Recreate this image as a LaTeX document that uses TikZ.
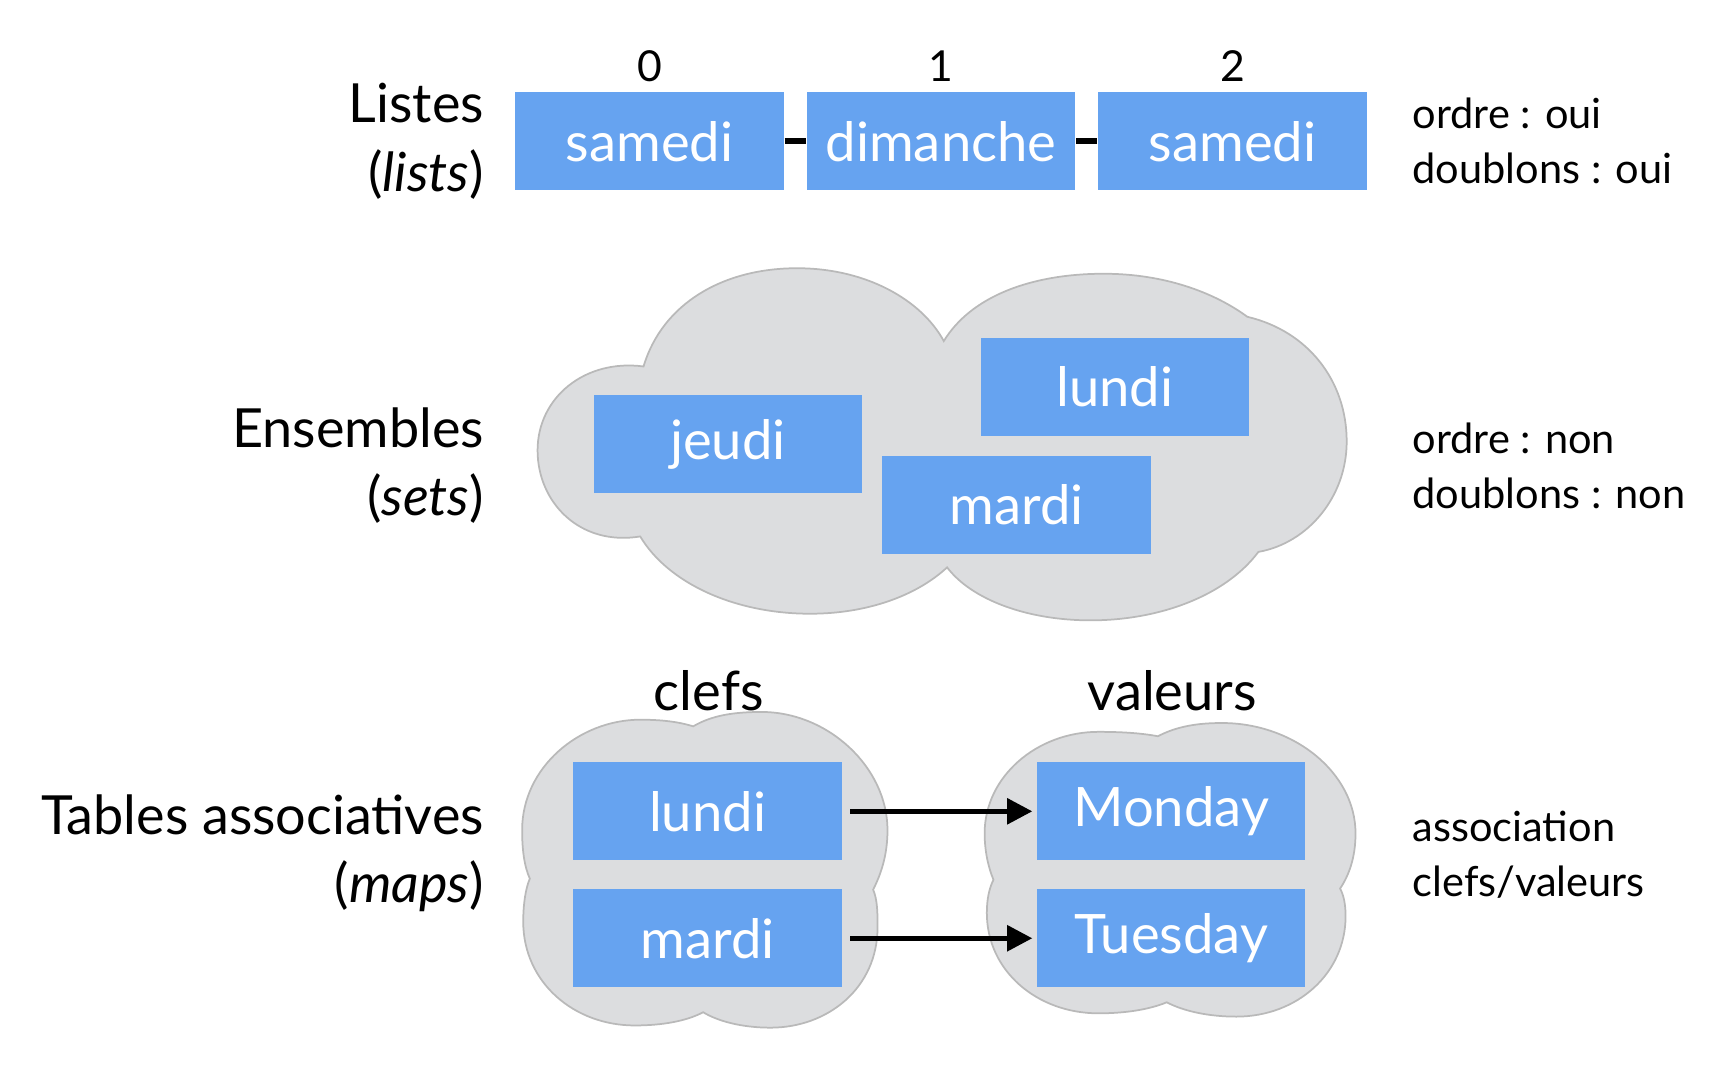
\documentclass[tikz,border=0pt]{standalone}
\usepackage{fontspec}
\setmainfont{Lato}
\usetikzlibrary{arrows.meta}
\definecolor{boxblue}{RGB}{102,163,240}
\definecolor{cloudgray}{RGB}{220,221,223}
\definecolor{cloudline}{RGB}{185,185,185}

\begin{document}
\begin{tikzpicture}[x=0.01cm, y=-0.01cm]
    % Define styles for boxes, clouds and labels
    \tikzstyle{item}=[rectangle, fill=boxblue, text=white, minimum width=2.43cm, minimum height=0.89cm, inner sep=0pt, font=\fontsize{14}{17}\selectfont]
    \tikzstyle{kind}=[anchor=east, align=right, inner sep=0pt, font=\fontsize{13.9}{17.6}\selectfont]
    \tikzstyle{remark}=[anchor=west, align=left, inner sep=0pt, font=\fontsize{10.7}{14.2}\selectfont]
    \tikzstyle{index}=[inner sep=0pt, font=\fontsize{11}{13}\selectfont]
    \tikzstyle{title}=[inner sep=0pt, font=\fontsize{14}{17}\selectfont]
    \tikzstyle{cloud}=[fill=cloudgray, draw=cloudline, line width=0.45pt]
    \tikzstyle{link}=[line width=1.3pt]

    \useasboundingbox (0,0) rectangle (1560,983);

    % Lists
    \node[kind] (K-L) at (439,128) {Listes\\(\textit{lists})};
    \foreach \i/\x/\t in {0/588.5/samedi, 1/852.5/dimanche, 2/1116.5/samedi} {
        \node[item] (L-\i) at (\x,128) {\t};
        \node[index] (N-\i) at (\x,60) {\i};
    }
    \draw[link, line width=1.6pt] (L-0) -- (L-1);
    \draw[link, line width=1.6pt] (L-1) -- (L-2);
    \node[remark] (R-L) at (1279,128) {ordre : oui\\doublons : oui};

    % Sets
    \node[kind] (K-S) at (439,422) {Ensembles\\(\textit{sets})};
    \path[cloud] (583,332) .. controls (600,275) and (655,243) .. (722,243)
        .. controls (785,243) and (835,272) .. (855,309)
        .. controls (880,268) and (935,248) .. (1000,248)
        .. controls (1055,248) and (1100,265) .. (1130,287)
        .. controls (1185,300) and (1220,345) .. (1220,400)
        .. controls (1220,450) and (1185,492) .. (1140,500)
        .. controls (1110,540) and (1050,562) .. (988,562)
        .. controls (930,562) and (880,543) .. (858,514)
        .. controls (830,540) and (785,556) .. (734,556)
        .. controls (665,556) and (605,528) .. (580,486)
        .. controls (525,495) and (487,455) .. (487,408)
        .. controls (487,360) and (530,325) .. (583,332) -- cycle;
    \node[item] (S-1) at (659.5,402.5) {jeudi};
    \node[item] (S-2) at (1010,350.5) {lundi};
    \node[item] (S-3) at (921,457.5) {mardi};
    \node[remark] (R-S) at (1279,422) {ordre : non\\doublons : non};

    % Maps
    \node[kind] (K-M) at (439,773) {Tables associatives\\(\textit{maps})};
    \path[cloud] (628,658) .. controls (645,648) and (665,645) .. (690,645)
        .. controls (750,645) and (804,695) .. (804,752)
        .. controls (804,775) and (798,792) .. (791,806)
        .. controls (795,815) and (795,828) .. (795,840)
        .. controls (795,895) and (750,931) .. (698,931)
        .. controls (672,931) and (650,925) .. (637,917)
        .. controls (622,925) and (600,929) .. (575,929)
        .. controls (520,929) and (474,890) .. (474,835)
        .. controls (474,820) and (476,805) .. (480,796)
        .. controls (475,785) and (473,770) .. (473,752)
        .. controls (473,695) and (525,652) .. (580,652)
        .. controls (600,652) and (615,654) .. (628,658) -- cycle;
    \path[cloud] (1049,667) .. controls (1066,658) and (1085,655) .. (1107,655)
        .. controls (1172,655) and (1228,700) .. (1228,755)
        .. controls (1228,777) and (1222,793) .. (1214,805)
        .. controls (1218,812) and (1219,822) .. (1219,830)
        .. controls (1219,882) and (1175,921) .. (1120,921)
        .. controls (1095,921) and (1072,916) .. (1057,908)
        .. controls (1040,915) and (1018,918) .. (995,918)
        .. controls (940,918) and (894,880) .. (894,827)
        .. controls (894,815) and (896,805) .. (900,797)
        .. controls (895,785) and (892,770) .. (892,755)
        .. controls (892,703) and (940,663) .. (995,663)
        .. controls (1015,663) and (1033,664) .. (1049,667) -- cycle;
    \node[title] (T-K) at (642,626) {clefs};
    \node[title] (T-V) at (1062,626) {valeurs};
    \foreach \i/\y/\k/\v in {1/735/lundi/Monday, 2/850/mardi/Tuesday} {
        \node[item] (K-\i) at (641,\y) {\k};
        \node[item] (V-\i) at (1061,\y) {\v};
        \draw[link, -{Triangle[length=6.5pt, width=6.5pt]}, shorten <=2pt, shorten >=1pt] (K-\i) -- (V-\i);
    }
    \node[remark] (R-M) at (1279,774) {association\\clefs/valeurs};

\end{tikzpicture}
\end{document}
